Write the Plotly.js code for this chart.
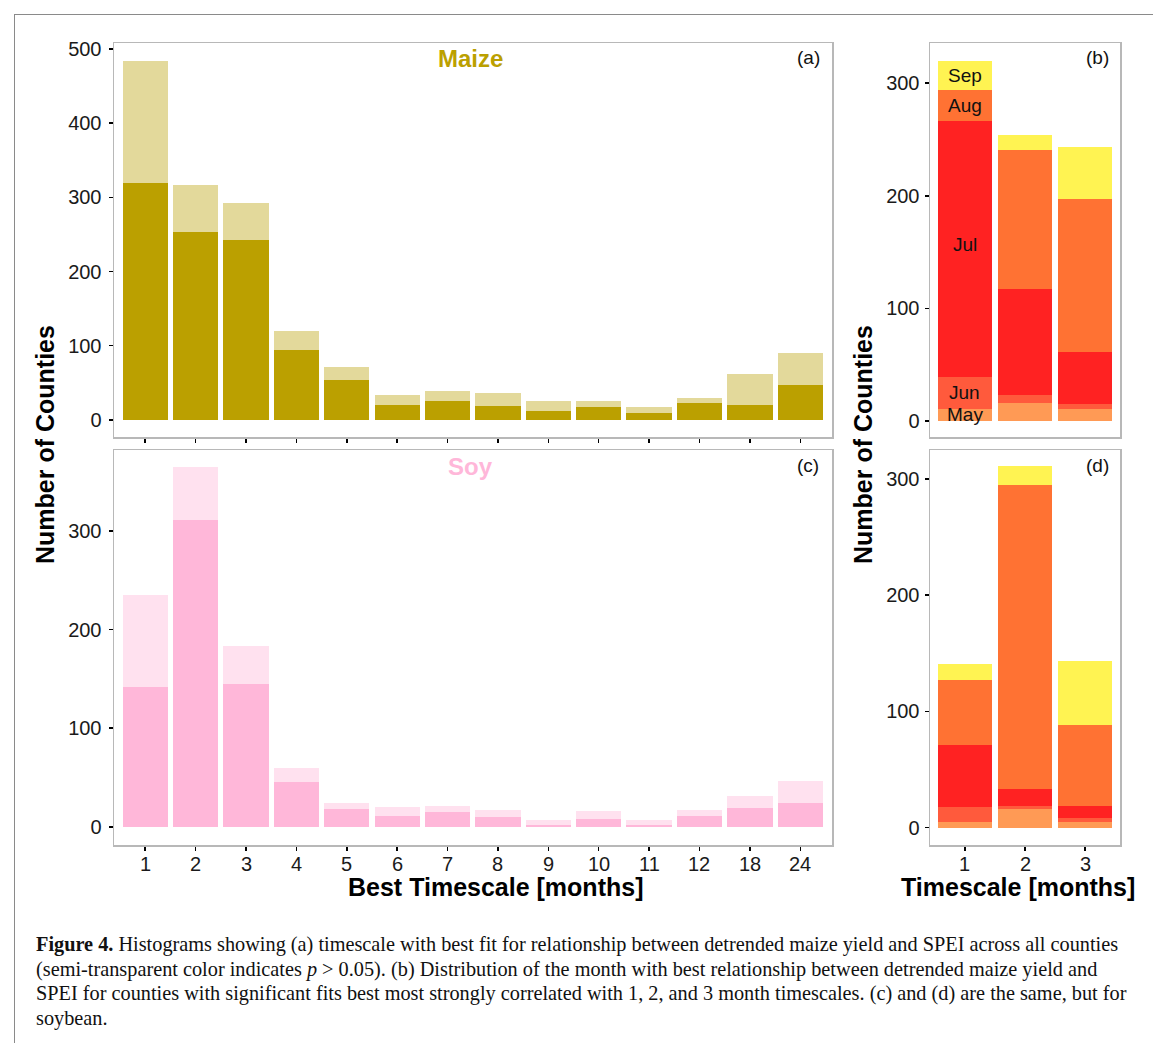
<!DOCTYPE html>
<html>
<head>
<meta charset="utf-8">
<script src="https://cdn.plot.ly/plotly-3.0.1.min.js"></script>
<style>
  html, body { margin: 0; padding: 0; background: #fff; }
  #wrap { position: relative; width: 1153px; height: 1043px; overflow: hidden; }
  #plot { position: absolute; left: 0; top: 0; width: 1153px; height: 1043px; }
  #frame { position: absolute; left: 14px; top: 14px; width: 1150px; height: 1040px;
           border-top: 1.5px solid #8a8a8a; border-left: 1.5px solid #8a8a8a; pointer-events: none; }
  #caption { position: absolute; left: 36px; top: 932px; font-family: "Liberation Serif", "DejaVu Serif", serif;
             font-size: 20.3px; line-height: 24.6px; color: #111; white-space: nowrap; }
</style>
</head>
<body>
<div id="wrap">
  <div id="plot"></div>
  <div id="frame"></div>
  <div id="caption">
    <b>Figure 4.</b> Histograms showing (a) timescale with best fit for relationship between detrended maize yield and SPEI across all counties<br>
    (semi-transparent color indicates <i>p</i> &gt; 0.05). (b) Distribution of the month with best relationship between detrended maize yield and<br>
    SPEI for counties with significant fits best most strongly correlated with 1, 2, and 3 month timescales. (c) and (d) are the same, but for<br>
    soybean.
  </div>
</div>
<script>
// ---- data ----
const timescales = ['1','2','3','4','5','6','7','8','9','10','11','12','18','24'];
const maizeTotal = [484, 317, 292, 120, 72, 34, 39, 36, 25, 26, 18, 29, 62, 90];
const maizeSig   = [319, 253, 243, 94, 54, 20, 25, 19, 12, 17, 9, 23, 20, 47];
const soyTotal   = [235, 365, 183, 60, 24, 20, 21, 17, 7, 16, 7, 17, 31, 46];
const soySig     = [142, 311, 145, 45, 18, 11, 15, 10, 2, 8, 2, 11, 19, 24];

const shortTimescales = ['1','2','3'];
const months = ['May','Jun','Jul','Aug','Sep'];
const maizeMay = [11, 16, 11];
const maizeJun = [28, 7, 4];
const maizeJul = [227, 94, 46];
const maizeAug = [28, 124, 136];
const maizeSep = [26, 13, 46];
const soyMay = [5, 16, 5];
const soyJun = [13, 3, 3];
const soyJul = [53, 14, 11];
const soyAug = [56, 262, 69];
const soySep = [14, 16, 55];

const monthColors = ['#FF9A55', '#FF5A3C', '#FF2222', '#FF7233', '#FFF352'];
const maizeDark = '#BBA000', maizeLight = '#E3D99B';
const soyDark = '#FFB7D9', soyLight = '#FFE1EF';

// ---- traces ----
const traces = [];
function addHist(total, sig, dark, light, xa, ya) {
  traces.push({type:'bar', x: timescales, y: sig, xaxis: xa, yaxis: ya,
    marker: {color: dark, line: {width: 0}}, hoverinfo: 'skip', showlegend: false});
  traces.push({type:'bar', x: timescales, y: total.map((t, i) => t - sig[i]), xaxis: xa, yaxis: ya,
    marker: {color: light, line: {width: 0}}, hoverinfo: 'skip', showlegend: false});
}
addHist(maizeTotal, maizeSig, maizeDark, maizeLight, 'x', 'y');
addHist(soyTotal, soySig, soyDark, soyLight, 'x3', 'y3');

const maizeMonths = [maizeMay, maizeJun, maizeJul, maizeAug, maizeSep];
const soyMonths = [soyMay, soyJun, soyJul, soyAug, soySep];
maizeMonths.forEach((arr, k) => traces.push({type:'bar', x: shortTimescales, y: arr, xaxis:'x2', yaxis:'y2',
  marker:{color: monthColors[k], line:{width:0}}, hoverinfo:'skip', showlegend:false}));
soyMonths.forEach((arr, k) => traces.push({type:'bar', x: shortTimescales, y: arr, xaxis:'x4', yaxis:'y4',
  marker:{color: monthColors[k], line:{width:0}}, hoverinfo:'skip', showlegend:false}));

// ---- layout ----
const W = 1153, H = 1043;
const px = v => v / W, py = v => 1 - v / H;
const fam = 'Liberation Sans, Arial, sans-serif';
const tickFont = {family: fam, size: 20, color: '#1a1a1a'};
const boxLine = {showline: true, mirror: true, linecolor: '#b8b8b8', linewidth: 1.5,
  ticks: 'outside', ticklen: 4, tickcolor: '#000', tickwidth: 1.5, showgrid: false, zeroline: false,
  tickfont: tickFont, fixedrange: true};

const layout = {
  width: W, height: H, margin: {l: 0, r: 0, t: 0, b: 0},
  paper_bgcolor: '#fff', plot_bgcolor: '#fff',
  barmode: 'stack', bargap: 0.1, showlegend: false,
  font: {family: fam},
  xaxis:  Object.assign({}, boxLine, {domain: [px(114), px(832)], anchor: 'y', type: 'category',
            range: [-0.62, 13.63], showticklabels: false}),
  yaxis:  Object.assign({}, boxLine, {domain: [py(437), py(43)], anchor: 'x', range: [-23, 508],
            tickvals: [0,100,200,300,400,500], ticklabelstandoff: 3}),
  xaxis3: Object.assign({}, boxLine, {domain: [px(114), px(832)], anchor: 'y3', type: 'category',
            range: [-0.62, 13.63], showticklabels: false}),
  yaxis3: Object.assign({}, boxLine, {domain: [py(845), py(450)], anchor: 'x3', range: [-18.5, 382],
            tickvals: [0,100,200,300], ticklabelstandoff: 3}),
  xaxis2: Object.assign({}, boxLine, {domain: [px(930), px(1120)], anchor: 'y2', type: 'category',
            range: [-0.583, 2.583], showticklabels: false, ticks: ''}),
  yaxis2: Object.assign({}, boxLine, {domain: [py(437), py(43)], anchor: 'x2', range: [-14.2, 335.7],
            tickvals: [0,100,200,300], ticklabelstandoff: 1}),
  xaxis4: Object.assign({}, boxLine, {domain: [px(930), px(1120)], anchor: 'y4', type: 'category',
            range: [-0.583, 2.583], showticklabels: false}),
  yaxis4: Object.assign({}, boxLine, {domain: [py(845), py(450)], anchor: 'x4', range: [-15, 325],
            tickvals: [0,100,200,300], ticklabelstandoff: 1}),
  annotations: []
};

const ann = layout.annotations;
const bold = (s) => '<b>' + s + '</b>';

// x tick labels (drawn from the category arrays, placed at each category)
timescales.forEach((t, i) => ann.push({xref:'x3', yref:'paper', x: i, y: py(864), text: t, showarrow:false,
  font: tickFont, xanchor:'center', yanchor:'middle'}));
shortTimescales.forEach((t, i) => ann.push({xref:'x4', yref:'paper', x: i, y: py(864), text: t, showarrow:false,
  font: tickFont, xanchor:'center', yanchor:'middle'}));

const titleFont = {family: fam, size: 25, color: '#000'};
ann.push({xref:'paper', yref:'paper', x: px(45), y: py(445), text: bold('Number of Counties'), textangle: -90,
  showarrow:false, font: titleFont, xanchor:'center', yanchor:'middle'});
ann.push({xref:'paper', yref:'paper', x: px(863), y: py(445), text: bold('Number of Counties'), textangle: -90,
  showarrow:false, font: titleFont, xanchor:'center', yanchor:'middle'});
ann.push({xref:'paper', yref:'paper', x: px(495), y: py(887), text: bold('Best Timescale [months]'),
  showarrow:false, font: titleFont, xanchor:'center', yanchor:'middle'});
ann.push({xref:'paper', yref:'paper', x: px(1018), y: py(887), text: bold('Timescale [months]'),
  showarrow:false, font: titleFont, xanchor:'center', yanchor:'middle'});

const panelFont = {family: fam, size: 19, color: '#111'};
[['(a)', 808, 57], ['(b)', 1097, 57], ['(c)', 808, 465], ['(d)', 1097, 465]].forEach(([t, x, y]) =>
  ann.push({xref:'paper', yref:'paper', x: px(x), y: py(y), text: t, showarrow:false, font: panelFont,
    xanchor:'center', yanchor:'middle'}));

ann.push({xref:'paper', yref:'paper', x: px(470), y: py(59), text: bold('Maize'), showarrow:false,
  font: {family: fam, size: 24, color: maizeDark}, xanchor:'center', yanchor:'middle'});
ann.push({xref:'paper', yref:'paper', x: px(470), y: py(466), text: bold('Soy'), showarrow:false,
  font: {family: fam, size: 24, color: soyDark}, xanchor:'center', yanchor:'middle'});

// month labels on the first maize bar (category index 0), at segment midpoints
let cum = 0;
const labelOffsets = [0, 0, 4, 0, 0];
maizeMonths.forEach((arr, k) => {
  const mid = cum + arr[0] / 2 + labelOffsets[k];
  cum += arr[0];
  ann.push({xref:'x2', yref:'y2', x: 0, y: mid, text: months[k], showarrow:false,
    font: {family: fam, size: 19, color: '#111'}, xanchor:'center', yanchor:'middle'});
});

Plotly.newPlot('plot', traces, layout, {displayModeBar: false, staticPlot: true});
</script>
</body>
</html>
